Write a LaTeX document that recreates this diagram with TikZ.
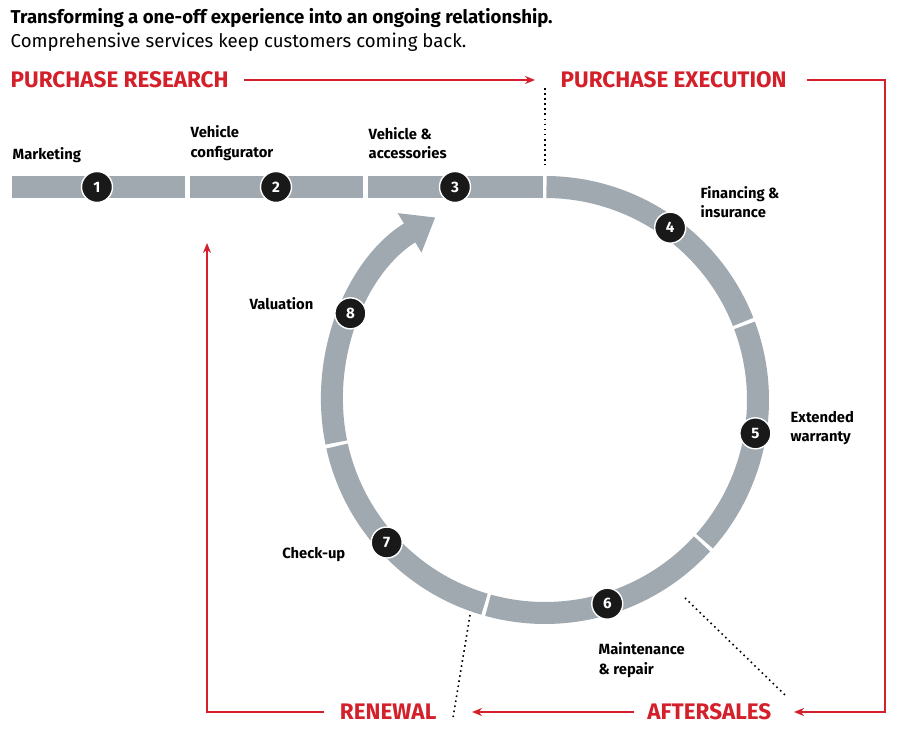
\documentclass[tikz,border=0pt]{standalone}
\usepackage{fontspec}
\setmainfont{Fira Sans}
\usetikzlibrary{arrows.meta,positioning}
\definecolor{cred}{HTML}{D3202A}
\definecolor{cgray}{HTML}{A0A9AF}
\tikzset{
  bar/.style={cgray,line width=0.22cm},
  num/.style={circle,fill=black!90,draw=white,line width=0.4pt,minimum size=0.31cm,inner sep=0pt,text=white,font=\fontsize{4.3}{5}\selectfont\bfseries},
  lbl/.style={font=\fontsize{4.2}{5.6}\selectfont\bfseries,align=left,inner sep=0pt},
  head/.style={text=cred,font=\fontsize{6.4}{7}\selectfont\bfseries,inner sep=0pt},
  redline/.style={cred,line width=0.6pt},
  tip/.style={-{Stealth[length=0.1cm,width=0.08cm]}},
  dots/.style={black,densely dotted,line width=0.45pt}
}
\begin{document}
\begin{tikzpicture}
  \useasboundingbox (0,0) rectangle (9,-7.31);
  % titles
  \node[lbl,anchor=west,font=\fontsize{5.3}{6}\selectfont\bfseries] (title) at (0.1,-0.18) {Transforming a one-off experience into an ongoing relationship.};
  \node[lbl,anchor=west,font=\fontsize{5.3}{6}\selectfont] (sub) at (0.1,-0.42) {Comprehensive services keep customers coming back.};
  % headings
  \node[head,anchor=west] (res) at (0.1,-0.8) {PURCHASE RESEARCH};
  \node[head,anchor=west] (exe) at (5.6,-0.8) {PURCHASE EXECUTION};
  \node[head,anchor=east] (aft) at (7.72,-7.12) {AFTERSALES};
  \node[head,anchor=east] (ren) at (4.37,-7.12) {RENEWAL};
  \coordinate (r1) at (5.35,-0.8);
  \coordinate (e1) at (8.85,-0.8);
  \coordinate (e2) at (8.85,-7.12);
  \coordinate (n1) at (2.07,-7.12);
  \coordinate (n2) at (2.07,-2.43);
  \draw[redline,tip] ([xshift=0.15cm]res.east) -- (r1);
  \draw[redline,tip] ([xshift=0.2cm]exe.east) -- (e1) -- (e2) -- ([xshift=0.22cm]aft.east);
  \draw[redline,tip] ([xshift=-0.13cm]aft.west) -- ([xshift=0.35cm]ren.east);
  \draw[redline,tip] ([xshift=-0.15cm]ren.west) -- (n1) -- (n2);
  % straight bar
  \draw[bar] (0.12,-1.87) -- (1.85,-1.87);
  \draw[bar] (1.9,-1.87) -- (3.63,-1.87);
  \draw[bar] (3.68,-1.87) -- (5.43,-1.87);
  % ring
  \coordinate (c) at (5.45,-4.0);
  \draw[bar] ([shift={(89.6:2.13)}]c) arc (89.6:21.5:2.13);
  \draw[bar] ([shift={(20.5:2.13)}]c) arc (20.5:-41.5:2.13);
  \draw[bar] ([shift={(-42.5:2.13)}]c) arc (-42.5:-105.5:2.13);
  \draw[bar] ([shift={(-106.5:2.13)}]c) arc (-106.5:-167.5:2.13);
  \draw[bar,-{Triangle[length=0.3cm,width=0.44cm]}] ([shift={(191.5:2.13)}]c) arc (191.5:121:2.13);
  % dotted
  \draw[dots] (5.45,-0.88) -- (5.45,-1.65);
  \draw[dots] (6.85,-5.98) -- (7.85,-6.95);
  \draw[dots] (4.7,-6.15) -- (4.53,-7.18);
  % numbered steps
  \node[num] (s1) at (0.97,-1.87) {1};
  \node[num] (s2) at (2.76,-1.87) {2};
  \node[num] (s3) at (4.55,-1.87) {3};
  \node[num] (s4) at ([shift={(54:2.13)}]c) {4};
  \node[num] (s5) at ([shift={(-9:2.13)}]c) {5};
  \node[num] (s6) at ([shift={(-73:2.13)}]c) {6};
  \node[num] (s7) at ([shift={(222:2.13)}]c) {7};
  \node[num] (s8) at ([shift={(156:2.13)}]c) {8};
  % labels
  \node[lbl,anchor=west] (l1) at (0.12,-1.55) {Marketing};
  \node[lbl,anchor=west] (l2) at (1.9,-1.43) {Vehicle\\configurator};
  \node[lbl,anchor=west] (l3) at (3.68,-1.43) {Vehicle \&\\accessories};
  \node[lbl,anchor=west] (l4) at (7.0,-2.02) {Financing \&\\insurance};
  \node[lbl,anchor=west] (l5) at (7.9,-4.28) {Extended\\warranty};
  \node[lbl,anchor=west] (l6) at (5.98,-6.6) {Maintenance\\\& repair};
  \node[lbl,anchor=east] (l7) at (3.46,-5.55) {Check-up};
  \node[lbl,anchor=east] (l8) at (3.14,-3.04) {Valuation};
\end{tikzpicture}
\end{document}
